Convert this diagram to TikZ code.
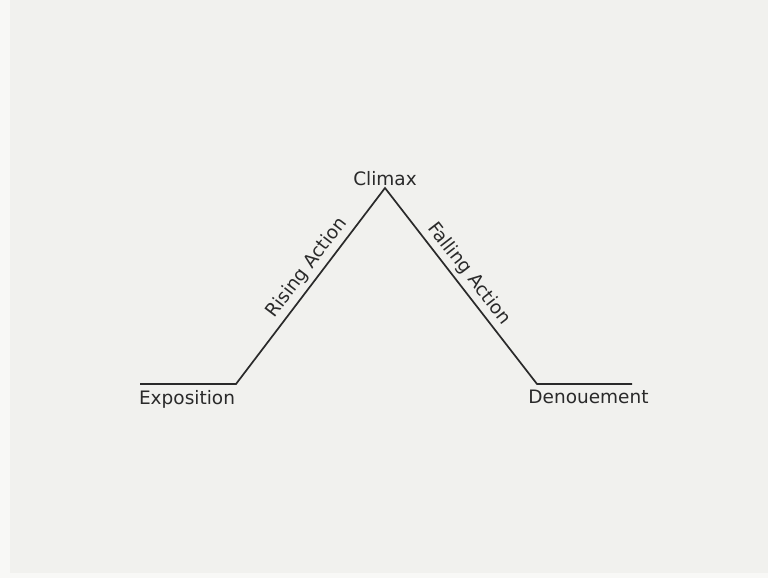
\documentclass[tikz,border=0pt]{standalone}
\usepackage{fontspec}
\setmainfont{DejaVu Sans}
\usetikzlibrary{calc}
\definecolor{bgGray}{HTML}{F1F1EE}
\definecolor{stripGray}{HTML}{F8F8F6}
\definecolor{inkGray}{HTML}{2A2A2A}

\begin{document}
\begin{tikzpicture}[x=1pt,y=-1pt,
    plotline/.style={line width=1.7pt, inkGray, line join=miter},
    plotlabel/.style={text=inkGray, font=\fontsize{18.5}{21}\selectfont, inner sep=2pt}]
    % --- 1. 背景 ---
    \fill[bgGray] (0,0) rectangle (768,578);
    \fill[stripGray] (0,0) rectangle (10,578);
    \fill[stripGray] (0,573) rectangle (768,578);
    \useasboundingbox (0,0) rectangle (768,578);

    % --- 2. 定義折線的點 ---
    \coordinate (expoL) at (140,384);
    \coordinate (expoR) at (236,384);
    \coordinate (peak)  at (385,188);
    \coordinate (denoL) at (537,384);
    \coordinate (denoR) at (632,384);

    % --- 3. 繪製折線與斜邊標籤 ---
    \draw[plotline] (expoL) -- (expoR)
        -- node[plotlabel, pos=0.55, above=2pt, sloped] (rising) {Rising Action} (peak)
        -- node[plotlabel, pos=0.48, above=2pt, sloped] (falling) {Falling Action} (denoL)
        -- (denoR);

    % --- 4. 標籤 ---
    \node[plotlabel, below=4pt, xshift=-1pt] (expo) at ($(expoL)!0.5!(expoR)$) {Exposition};
    \node[plotlabel, above=0pt] (climax) at (peak) {Climax};
    \node[plotlabel, below=4pt, xshift=4pt] (deno) at ($(denoL)!0.5!(denoR)$) {Denouement};
\end{tikzpicture}
\end{document}
